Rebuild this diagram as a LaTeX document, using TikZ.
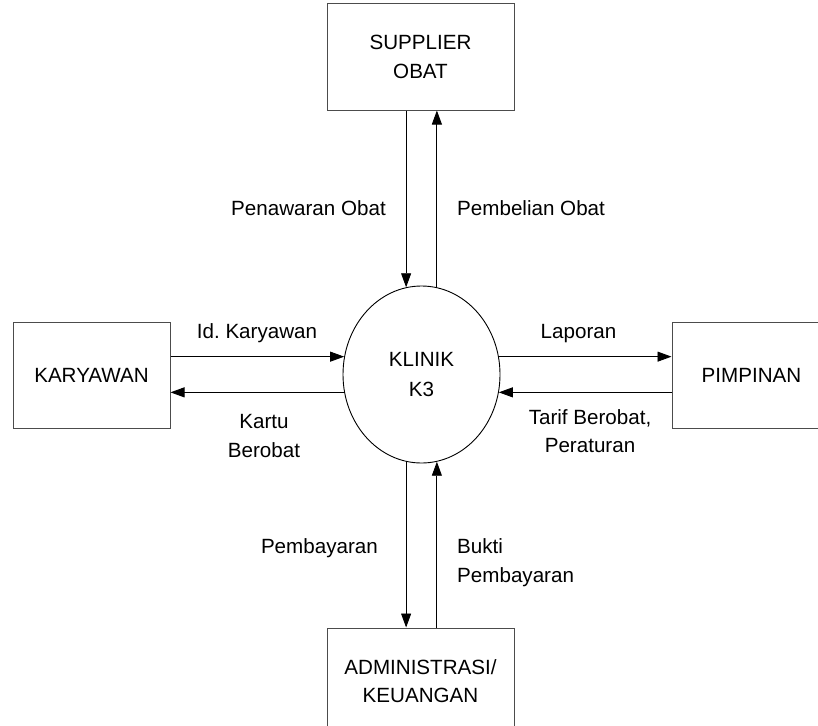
\documentclass[tikz,border=0pt]{standalone}
\usepackage{fontspec}
\setmainfont{Liberation Sans}
\usetikzlibrary{shapes.geometric,arrows.meta}

\tikzset{
  entity/.style={draw=black!70, line width=1pt, rectangle, inner sep=0pt,
    minimum height=106pt, align=center,
    font=\fontsize{20.6}{28.5}\selectfont},
  process/.style={draw=black, line width=0.9pt, ellipse, inner sep=0pt,
    minimum width=157pt, minimum height=177pt, align=center,
    font=\fontsize{20.6}{30}\selectfont},
  flow/.style={draw=black, line width=0.9pt,
    -{Triangle[length=14pt,width=10pt]}},
  lbl/.style={inner sep=0pt, align=center,
    font=\fontsize{20.6}{28.5}\selectfont},
}

\begin{document}
\frenchspacing
\begin{tikzpicture}[x=1pt,y=1pt]
  \useasboundingbox (0,0) rectangle (818,-725);
  \clip (0,0) rectangle (818,-725);
  \fill[white] (0,0) rectangle (818,-725);

  % central process
  \node[process] (k) at (421.5,-374.5) {KLINIK\\K3};

  % external entities
  \node[entity, minimum width=187pt] (sup) at (420.5,-57) {SUPPLIER\\OBAT};
  \node[entity, minimum width=157pt] (kar) at (91.5,-375) {KARYAWAN};
  \node[entity, minimum width=159pt] (pim) at (751.5,-375) {PIMPINAN};
  \node[entity, minimum width=187pt] (adm) at (420.5,-681) {ADMINISTRASI/\\KEUANGAN};

  % data flows with the supplier
  \draw[flow] (k.100 |- sup.south) -- (k.100);
  \draw[flow] (k.80) -- (k.80 |- sup.south);
  \node[lbl, anchor=base east] (l1) at (386,-215.5) {Penawaran Obat};
  \node[lbl, anchor=base west] (l2) at (457,-215.5) {Pembelian Obat};

  % data flows with employees
  \draw[flow] (kar.east |- k.167) -- (k.167);
  \draw[flow] (k.193) -- (kar.east |- k.193);
  \node[lbl, anchor=base] (l3) at (257,-338) {Id.\ Karyawan};
  \node[lbl] (l4) at (264,-436) {Kartu\\Berobat};

  % data flows with management
  \draw[flow] (k.13) -- (pim.west |- k.13);
  \draw[flow] (pim.west |- k.347) -- (k.347);
  \node[lbl, anchor=base] (l5) at (578.5,-338) {Laporan};
  \node[lbl] (l6) at (590,-431) {Tarif Berobat,\\Peraturan};

  % data flows with administration
  \draw[flow] (k.260) -- (k.260 |- adm.north);
  \draw[flow] (k.280 |- adm.north) -- (k.280);
  \node[lbl, anchor=base east] (l7) at (378,-553) {Pembayaran};
  \node[lbl, align=left, anchor=west] (l8) at (457,-562.5) {Bukti\\Pembayaran};
\end{tikzpicture}
\end{document}
